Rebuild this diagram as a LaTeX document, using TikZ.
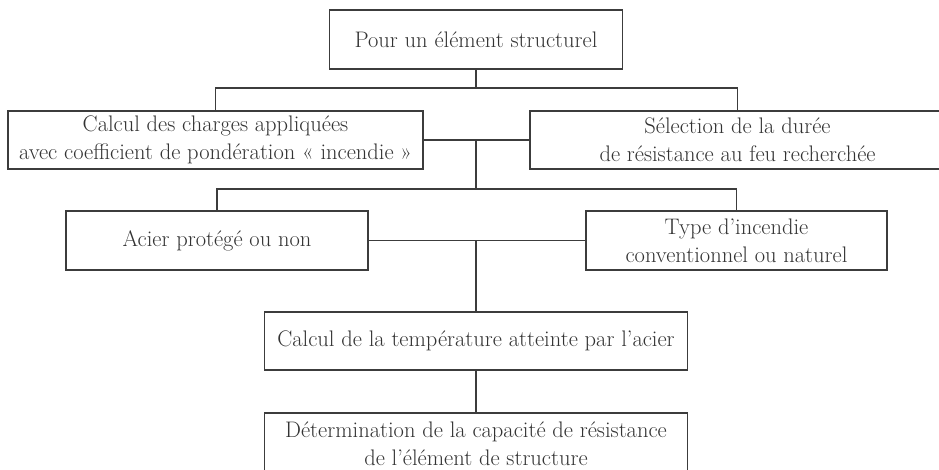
\documentclass[tikz,border=0pt]{standalone}
\usepackage{fontspec}
\definecolor{ink}{HTML}{3C3C3C}
\definecolor{txt}{HTML}{333333}
\begin{document}
\begin{tikzpicture}[x=1pt,y=-1pt,
  box/.style={draw=ink,line width=1.8pt,fill=white,text=txt,align=center,
    inner sep=0pt,font=\fontsize{22.5}{28}\selectfont},
  link/.style={draw=ink,line width=1.8pt}]
\useasboundingbox (0,0) rectangle (939,469);
\clip (0,0) rectangle (939,469);
\node[box,minimum width=293pt,minimum height=59pt] (top) at (476,39.5) {Pour un élément structurel};
\node[box,minimum width=415pt,minimum height=58pt] (charges) at (215.5,140) {Calcul des charges appliquées\\avec coefficient de pondération «~incendie~»};
\node[box,minimum width=415pt,minimum height=58pt] (duree) at (737.5,140) {Sélection de la durée\\de résistance au feu recherchée};
\node[box,minimum width=302pt,minimum height=59pt] (acier) at (217,240.5) {Acier protégé ou non};
\node[box,minimum width=301pt,minimum height=59pt] (type) at (736.5,240.5) {Type d’incendie\\conventionnel ou naturel};
\node[box,minimum width=423pt,minimum height=58pt] (temp) at (476,341) {Calcul de la température atteinte par l’acier};
\node[box,minimum width=423pt,minimum height=61pt] (det) at (476,443.5) {Détermination de la capacité de résistance\\de l’élément de structure};
\coordinate (j1) at (476,88);
\coordinate (m2) at (476,140);
\coordinate (j2) at (476,189);
\coordinate (m3) at (476,240.5);
\draw[link] (top.south) -- (j1);
\draw[link] (charges.north) |- (j1) -| (duree.north);
\draw[link] (charges.east) -- (duree.west);
\draw[link] (m2) -- (j2);
\draw[link] (acier.north) |- (j2) -| (type.north);
\draw[link] (acier.east) -- (type.west);
\draw[link] (m3) -- (temp.north);
\draw[link] (temp.south) -- (det.north);
\end{tikzpicture}
\end{document}
